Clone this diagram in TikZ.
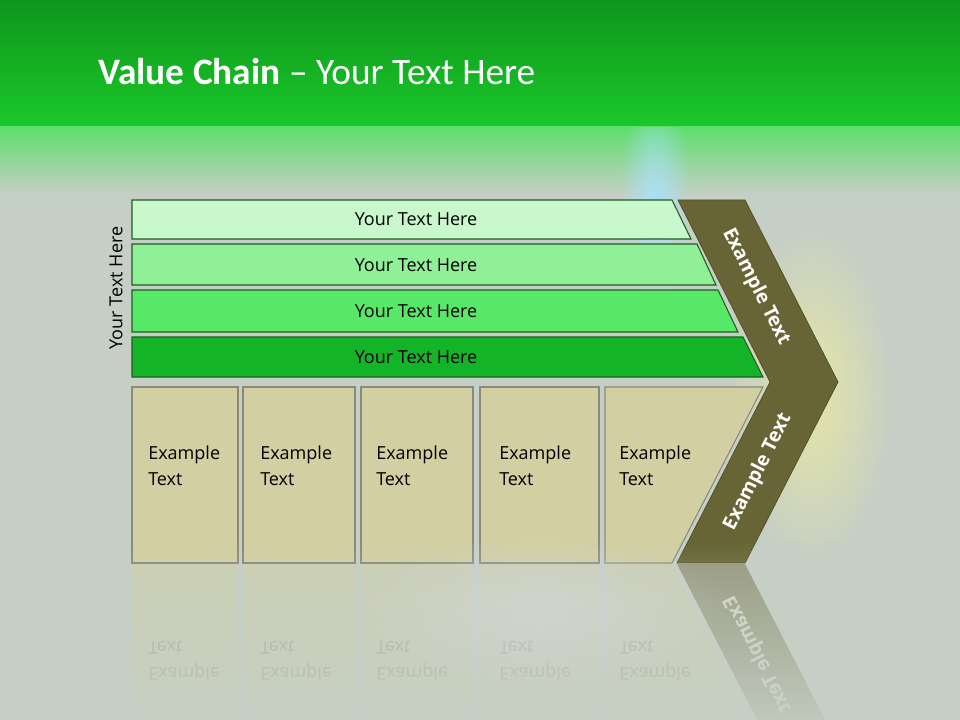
\documentclass[tikz,border=0pt]{standalone}
\usepackage{fontspec}
\setmainfont{Open Sans}
\newfontfamily\titlefont{Carlito}
\usepackage{graphicx}
\usetikzlibrary{fadings}
\definecolor{bg}{HTML}{C6CFC6}
\definecolor{gtop}{HTML}{0E961C}
\definecolor{gbot}{HTML}{1BC82A}
\definecolor{gfade}{HTML}{5EDE6C}
\definecolor{barA}{HTML}{C8F8CC}
\definecolor{barB}{HTML}{90F098}
\definecolor{barC}{HTML}{58E868}
\definecolor{barD}{HTML}{14B428}
\definecolor{bardraw}{HTML}{1E5E1E}
\definecolor{beige}{HTML}{D2D0A2}
\definecolor{beigedraw}{HTML}{8A8A7C}
\definecolor{olive}{HTML}{676535}
\tikzfading[name=glowfade, inner color=transparent!0, outer color=transparent!100]
\begin{document}
\begin{tikzpicture}[x=0.75pt,y=-0.75pt,
  bodytext/.style={font=\fontsize{13.5}{19.5}\selectfont, text=black, inner sep=0pt},
  barshape/.style={draw=bardraw, line width=0.8pt},
  boxshape/.style={fill=beige, draw=beigedraw, line width=0.8pt},
  chevtext/.style={font=\bfseries\fontsize{14.5}{17}\selectfont, text=white, inner sep=0pt},
  refltext/.style={font=\fontsize{13.5}{19.5}\selectfont, text=black!70, inner sep=0pt},
  glow/.style={path fading=glowfade}]
\useasboundingbox (0,0) rectangle (960,720);
% background
\fill[bg] (0,0) rectangle (960,720);
\shade[top color=gtop, bottom color=gbot] (0,0) rectangle (960,127);
\shade[top color=gfade, bottom color=bg] (0,127) rectangle (960,195);
% glows
\begin{scope}
  \clip (0,128) rectangle (960,720);
  \fill[cyan!35!white, glow, opacity=0.9] (655,200) ellipse (36 and 110);
\end{scope}
\fill[yellow!45!white, glow, opacity=0.55] (812,395) ellipse (80 and 170);
% title
\node[anchor=base west, text=white, inner sep=0pt, font=\titlefont\fontsize{28}{34}\selectfont] (title) at (98,85) {\textbf{Value Chain} – Your Text Here};
% side label
\node[bodytext, rotate=90] (side) at (116,288) {Your Text Here};
% bars
\path[barshape, fill=barA] (132,200) -- (672,200) -- (691,239) -- (132,239) -- cycle;
\path[barshape, fill=barB] (132,244) -- (697,244) -- (716,285) -- (132,285) -- cycle;
\path[barshape, fill=barC] (132,290) -- (718,290) -- (738,332) -- (132,332) -- cycle;
\path[barshape, fill=barD] (132,337) -- (743,337) -- (763,377) -- (132,377) -- cycle;
\node[bodytext] (bar1) at (416,219.5) {Your Text Here};
\node[bodytext] (bar2) at (416,265) {Your Text Here};
\node[bodytext] (bar3) at (416,311) {Your Text Here};
\node[bodytext] (bar4) at (416,357) {Your Text Here};
% boxes
\path[boxshape] (132,387) rectangle (238,563);
\path[boxshape] (243,387) rectangle (355,563);
\path[boxshape] (361,387) rectangle (473,563);
\path[boxshape] (480,387) rectangle (599,563);
\path[boxshape] (605,387) -- (763,387) -- (672,563) -- (605,563) -- cycle;
\foreach \x/\n in {148/1,260/2,376/3,499/4,619/5}{
  \node[bodytext, anchor=base west] (box\n a) at (\x,459) {Example};
  \node[bodytext, anchor=base west] (box\n b) at (\x,485) {Text};
}
% chevron
\path[fill=olive, draw=olive!80!black, line width=0.6pt] (678,200) -- (745,200) -- (838,382) -- (745,563) -- (677,563) -- (770,382) -- cycle;
\node[chevtext, rotate=-63.2] (chev1) at (756,287) {Example Text};
\node[chevtext, rotate=63.2] (chev2) at (758,472) {Example Text};
% reflection
\begin{scope}[opacity=0.5]
  \fill[beige] (132,564) rectangle (238,740);
  \fill[beige] (243,564) rectangle (355,740);
  \fill[beige] (361,564) rectangle (473,740);
  \fill[beige] (480,564) rectangle (599,740);
  \fill[beige] (605,564) -- (672,564) -- (763,740) -- (605,740) -- cycle;
  \fill[olive] (677,564) -- (745,564) -- (838,745) -- (770,745) -- cycle;
\end{scope}
\begin{scope}[opacity=0.3]
\foreach \x/\n in {148/1,260/2,376/3,499/4,619/5}{
  \node[refltext, anchor=base west] (rbox\n a) at (\x,667) {\scalebox{1}[-1]{Example}};
  \node[refltext, anchor=base west] (rbox\n b) at (\x,641) {\scalebox{1}[-1]{Text}};
}
\end{scope}
\node[chevtext, rotate=-63.2, opacity=0.6] (rchev) at (758,654) {\scalebox{1}[-1]{Example Text}};
\fill[bg, path fading=north] (0,540) rectangle (960,745);
% soft glow in reflection area
\fill[blue!12!white, glow, opacity=0.3] (540,610) ellipse (200 and 80);
\end{tikzpicture}
\end{document}
